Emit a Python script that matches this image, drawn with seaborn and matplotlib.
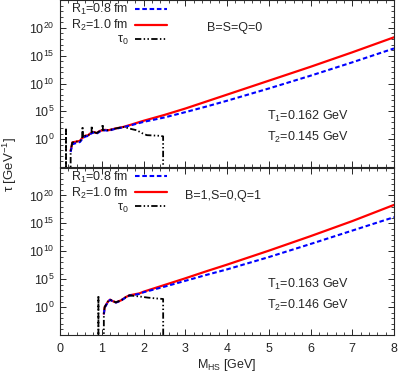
import numpy as np
import pandas as pd
import matplotlib
matplotlib.use("Agg")
import matplotlib.pyplot as plt
import matplotlib.ticker as mticker
import seaborn as sns

# ---------------- data (log10 tau) ----------------
# top panel: B=S=Q=0
top_r2_m = [0.255, 0.295, 0.32, 0.48, 0.52, 0.6, 0.68, 0.72, 0.8, 0.88, 0.96, 1.08, 1.16, 1.32, 1.52, 1.7, 2.0, 2.5, 3.0, 3.5, 4.0, 5.0, 6.0, 7.0, 8.0]
top_r2_log = [-2.1, -0.6, -0.55, -0.3, 0.1, 0.6, 0.72, 1.0, 1.3, 1.1, 1.5, 1.67, 1.6, 1.9, 2.2, 2.6, 3.3, 4.35, 5.5, 6.75, 8.0, 10.5, 13.0, 15.6, 18.3]
top_r1_m = top_r2_m
top_r1_log = [-2.3, -0.9, -0.85, -0.5, -0.1, 0.45, 0.6, 0.9, 1.2, 1.0, 1.4, 1.6, 1.5, 1.85, 2.15, 2.5, 3.1, 3.9, 4.85, 5.85, 6.9, 9.1, 11.4, 13.8, 16.3]
top_t0_m = [0.144, 0.144, 0.144, 0.255, 0.255, 0.295, 0.32, 0.48, 0.53, 0.54, 0.55, 0.6, 0.68, 0.72, 0.755, 0.76, 0.765, 0.8, 0.88, 0.96, 1.01, 1.02, 1.03, 1.08, 1.16, 1.32, 1.52, 1.72, 1.84, 1.96, 2.08, 2.4, 2.47, 2.47]
top_t0_log = [-30, 2.0, -30, -30, -2.1, -0.6, -0.55, -0.3, 0.15, 2.3, 0.3, 0.6, 0.72, 1.0, 1.15, 2.4, 1.2, 1.3, 1.1, 1.5, 1.6, 2.7, 1.65, 1.67, 1.6, 1.9, 2.2, 1.8, 1.6, 1.1, 0.72, 0.6, 0.5, -30]

# bottom panel: B=1,S=0,Q=1
bot_r2_m = [1.05, 1.07, 1.11, 1.15, 1.2, 1.26, 1.34, 1.46, 1.58, 1.66, 1.9, 2.0, 2.5, 3.0, 3.5, 4.0, 5.0, 6.0, 7.0, 8.0]
bot_r2_log = [-1.2, 0.0, 0.5, 1.0, 1.33, 1.08, 0.85, 1.2, 1.8, 2.1, 2.45, 2.75, 3.95, 5.15, 6.4, 7.6, 10.1, 12.7, 15.4, 18.3]
bot_r1_m = bot_r2_m
bot_r1_log = [-1.3, -0.1, 0.4, 0.95, 1.3, 1.05, 0.8, 1.15, 1.75, 2.05, 2.35, 2.65, 3.65, 4.7, 5.75, 6.75, 8.95, 11.3, 13.7, 16.1]
bot_t0_m = [0.92, 0.92, 0.92, 1.05, 1.05, 1.07, 1.11, 1.15, 1.2, 1.26, 1.34, 1.46, 1.58, 1.66, 1.9, 2.1, 2.3, 2.47, 2.48]
bot_t0_log = [-30, 2.1, -30, -30, -1.2, 0.0, 0.5, 1.0, 1.33, 1.08, 0.85, 1.2, 1.8, 2.1, 1.9, 1.7, 1.55, 1.45, -30]

labels = ["R$_1$=0.8 fm", "R$_2$=1.0 fm", "τ$_0$"]
charges = ["B=S=Q=0", "B=1,S=0,Q=1"]
temps = [("T$_1$=0.162 GeV", "T$_2$=0.145 GeV"), ("T$_1$=0.163 GeV", "T$_2$=0.146 GeV")]
xticks = [0, 1, 2, 3, 4, 5, 6, 7, 8]
ytick_exps = [-5, 0, 5, 10, 15, 20, 25]
ytick_labeled = [0, 5, 10, 15, 20]

# ---------------- style ----------------
sns.set_style("ticks")
plt.rcParams["font.family"] = ["Liberation Sans", "DejaVu Sans"]
plt.rcParams["mathtext.fontset"] = "custom"
plt.rcParams["mathtext.rm"] = "Liberation Sans"
plt.rcParams["mathtext.it"] = "Liberation Sans:italic"
plt.rcParams["mathtext.bf"] = "Liberation Sans:bold"
plt.rcParams["font.size"] = 9
plt.rcParams["axes.linewidth"] = 0.8

fig = plt.figure(figsize=(4.0, 3.74), dpi=100)
W, H = 400.0, 374.0
left, right = 60 / W, 394 / W
ax_top = fig.add_axes([left, 1 - 167 / H, right - left, 167 / H])
ax_bot = fig.add_axes([left, 1 - 335 / H, right - left, 167.5 / H])

def tofr(m, lg):
    return pd.DataFrame({"M": m, "tau": [10.0 ** v for v in lg]})

panels = [
    (ax_top, (top_r1_m, top_r1_log), (top_r2_m, top_r2_log), (top_t0_m, top_t0_log)),
    (ax_bot, (bot_r1_m, bot_r1_log), (bot_r2_m, bot_r2_log), (bot_t0_m, bot_t0_log)),
]

for i, (ax, r1, r2, t0) in enumerate(panels):
    ax.set_yscale("log")
    d1, d2, d0 = tofr(*r1), tofr(*r2), tofr(*t0)
    sns.lineplot(data=d1, x="M", y="tau", ax=ax, color="#0000ff", lw=1.5,
                 linestyle=(0, (2.2, 1.3)), label=labels[0], estimator=None, sort=False, zorder=3)
    sns.lineplot(data=d2, x="M", y="tau", ax=ax, color="#ff0000", lw=1.6,
                 linestyle="-", label=labels[1], estimator=None, sort=False, zorder=2)
    sns.lineplot(data=d0, x="M", y="tau", ax=ax, color="black", lw=1.3,
                 linestyle=(0, (3.5, 1.3, 0.8, 1.3, 0.8, 1.3)), label=labels[2],
                 estimator=None, sort=False, zorder=4)
    ax.set_xlim(0, 8)
    ax.set_ylim(1e-5, 1e25)
    ax.set_xlabel("")
    ax.set_ylabel("")
    ax.xaxis.set_major_locator(mticker.FixedLocator(xticks))
    ax.xaxis.set_minor_locator(mticker.MultipleLocator(0.2))
    ax.yaxis.set_major_locator(mticker.FixedLocator([10.0 ** e for e in ytick_exps]))
    ax.yaxis.set_minor_locator(mticker.FixedLocator([10.0 ** e for e in range(-5, 26)]))
    ax.yaxis.set_minor_formatter(mticker.NullFormatter())
    ax.yaxis.set_major_formatter(mticker.FuncFormatter(
        lambda v, p: ("$10^{%d}$" % round(np.log10(v))) if round(np.log10(v)) in ytick_labeled else ""))
    ax.tick_params(which="both", direction="in", top=True, right=True, labelsize=9)
    ax.tick_params(which="major", length=4.5, width=0.7)
    ax.tick_params(which="minor", length=2.2, width=0.6)
    ax.tick_params(axis="y", pad=4)
    ax.tick_params(axis="x", pad=6)
    for s in ax.spines.values():
        s.set_visible(True)
    leg = ax.legend(loc="upper left", bbox_to_anchor=(0.03, 0.995), frameon=False,
                    markerfirst=False, labelspacing=0.08, handlelength=2.6,
                    handletextpad=0.5, borderpad=0.1, borderaxespad=0.0, fontsize=9)
    ax.text(0.44 if i == 0 else 0.374, 0.832, charges[i], transform=ax.transAxes,
            ha="left", va="center", fontsize=9)
    ax.text(0.62, 0.30, temps[i][0], transform=ax.transAxes, ha="left", va="center", fontsize=9)
    ax.text(0.62, 0.175, temps[i][1], transform=ax.transAxes, ha="left", va="center", fontsize=9)

ax_top.tick_params(axis="x", labelbottom=False)
ax_bot.set_xlabel("M$_{\\rm HS}$ [GeV]", fontsize=9, labelpad=1)
fig.text(10 / W, 1 - 165 / H, "τ [GeV$^{-1}$]", rotation=90, ha="center", va="center", fontsize=9.5)

fig.savefig("out.png", dpi=100)
